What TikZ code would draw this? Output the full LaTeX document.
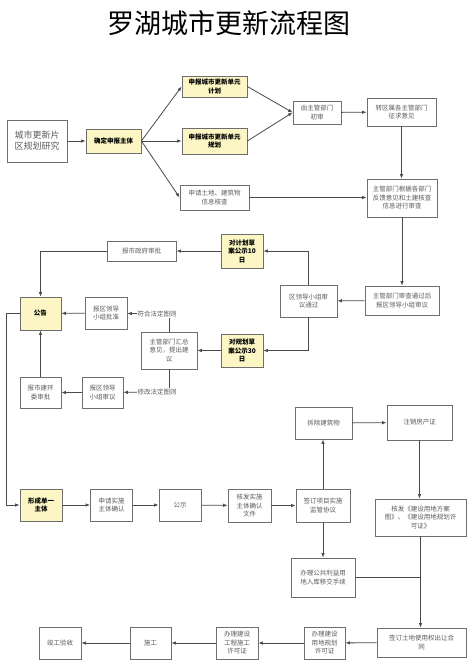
\documentclass[tikz,border=0pt]{standalone}
\usepackage{fontspec}
\setmainfont{Noto Sans CJK SC}
\usepackage{tikz}
\usetikzlibrary{arrows.meta}

\definecolor{keyfill}{HTML}{FBF6C4}
\definecolor{boxline}{HTML}{6E6E6E}
\definecolor{boxtext}{HTML}{5A5A5A}
\definecolor{wire}{HTML}{4A4A4A}

\tikzset{
  box/.style={draw=boxline, line width=0.8pt, fill=white, text=boxtext, align=center,
    inner sep=1pt, font=\fontsize{6.5}{8.5}\selectfont},
  keybox/.style={box, fill=keyfill, text=black, font=\fontsize{6.5}{8.5}\selectfont\bfseries},
  sz/.style 2 args={minimum width=#1, minimum height=#2},
  cond/.style={text=boxtext, inner sep=0.5pt, font=\fontsize{6.5}{8}\selectfont},
  arr/.style={draw=wire, line width=0.8pt, -{Latex[length=4.5pt,width=3.5pt]}},
  wire/.style={draw=wire, line width=0.8pt},
}

\begin{document}
\begin{tikzpicture}[x=1pt, y=-1pt]
    \useasboundingbox (0,0) rectangle (474,667);
    \node[font=\fontsize{27}{30}\selectfont] (title) at (229,23) {罗湖城市更新流程图};

    % upper part
    \node[box, sz={60pt}{42pt}, font=\fontsize{9}{11}\selectfont] (study) at (37,141) {城市更新片\\区规划研究};
    \node[keybox, sz={55pt}{24pt}] (subj) at (113.5,141) {确定申报主体};
    \node[keybox, sz={65pt}{21pt}] (plan) at (214.5,86.5) {申报城市更新单元\\计划};
    \node[keybox, sz={65pt}{26pt}] (layout) at (214.5,141) {申报城市更新单元\\规划};
    \node[box, sz={69pt}{25pt}] (check) at (214.5,197.5) {申请土地、建筑物\\信息核查};
    \node[box, sz={48pt}{23pt}] (first) at (317,112.5) {由主管部门\\初审};
    \node[box, sz={69pt}{28pt}] (consult) at (401.5,112) {转区属各主管部门\\征求意见};
    \node[box, sz={70pt}{38pt}] (review) at (402,198) {主管部门根据各部门\\反馈意见和土建核查\\信息进行审查};
    \node[box, sz={74pt}{29pt}] (toboard) at (402,300.5) {主管部门审查通过后\\报区领导小组审议};
    \node[box, sz={57pt}{32pt}] (passed) at (308.5,301) {区领导小组审\\议通过};
    \node[keybox, sz={42pt}{34pt}] (pub10) at (242,251) {对计划草\\案公示10\\日};
    \node[keybox, sz={42pt}{33pt}] (pub30) at (242,350.5) {对规划草\\案公示30\\日};
    \node[box, sz={69pt}{20pt}] (citygov) at (141.5,251) {报市政府审批};
    \node[keybox, sz={41pt}{33pt}] (notice) at (40.5,313.5) {公告};
    \node[box, sz={42pt}{32pt}] (approve) at (106,313) {报区领导\\小组批准};
    \node[box, sz={56pt}{37pt}] (sum) at (169,350.5) {主管部门汇总\\意见，提出建\\议};
    \node[box, sz={41pt}{31pt}] (deliber) at (102.5,392.5) {报区领导\\小组审议};
    \node[box, sz={41pt}{31pt}] (envcom) at (40.5,392.5) {报市建环\\委审批};
    \node[cond] (fit) at (157,314) {符合法定图则};
    \node[cond] (amend) at (157,392) {修改法定图则};

    % lower part
    \node[keybox, sz={42pt}{32pt}] (single) at (41,505) {形成单一\\主体};
    \node[box, sz={42pt}{32pt}] (apply) at (111.5,505) {申请实施\\主体确认};
    \node[box, sz={42pt}{32pt}] (show) at (180,505) {公示};
    \node[box, sz={43pt}{33pt}] (confirm) at (249.5,505.5) {核发实施\\主体确认\\文件};
    \node[box, sz={54pt}{33pt}] (agree) at (323,505.5) {签订项目实施\\监管协议};
    \node[box, sz={57pt}{32pt}] (demol) at (323.5,423) {拆除建筑物};
    \node[box, sz={65pt}{35pt}] (cancel) at (419.5,422.5) {注销房产证};
    \node[box, sz={91pt}{37pt}] (landmap) at (420.5,517.5) {核发《建设用地方案\\图》、《建设用地规划许\\可证》};
    \node[box, sz={64pt}{39pt}] (public) at (323,577.5) {办理公共利益用\\地入库移交手续};
    \node[box, sz={89pt}{29pt}] (contract) at (421.5,642.5) {签订土地使用权出让合\\同};
    \node[box, sz={41pt}{32pt}] (landper) at (324.5,643) {办理建设\\用地规划\\许可证};
    \node[box, sz={42pt}{32pt}] (buildper) at (237,643) {办理建设\\工程施工\\许可证};
    \node[box, sz={41pt}{32pt}] (work) at (150.5,643) {施工};
    \node[box, sz={42pt}{32pt}] (accept) at (60,643) {竣工验收};

    % connectors
    \draw[arr] (study) -- (subj);
    \draw[arr] (subj.east) -- (plan.west);
    \draw[arr] (subj) -- (layout);
    \draw[arr] (subj.east) -- (check.west);
    \draw[arr] (plan.east) -- (first.west);
    \draw[arr] (layout.east) -- (first.west);
    \draw[arr] (first) -- (consult);
    \draw[arr] (consult.south) -- (consult.south |- review.north);
    \draw[arr] (check.east) -- (check.east -| review.west);
    \draw[arr] (review) -- (toboard);
    \draw[arr] (toboard) -- (passed);
    \draw[arr] (passed.north) |- (pub10.east);
    \draw[arr] (passed.south) |- (pub30.east);
    \draw[arr] (pub10) -- (citygov);
    \draw[arr] (citygov.west) -| (notice.north);
    \draw[arr] (pub30) -- (sum);
    \draw[wire] (sum.north) -- (sum.north |- fit.south);
    \draw[arr] (fit) -- (approve);
    \draw[arr] (approve) -- (notice);
    \draw[wire] (sum.south) -- (sum.south |- amend.north);
    \draw[arr] (amend) -- (deliber);
    \draw[arr] (deliber) -- (envcom);
    \draw[arr] (envcom) -- (notice);
    \draw[arr] (notice.west) -- ++(-13,0) |- (single.west);
    \draw[arr] (single) -- (apply);
    \draw[arr] (apply) -- (show);
    \draw[arr] (show) -- (confirm);
    \draw[arr] (confirm) -- (agree);
    \draw[arr] (agree.north) -- (agree.north |- demol.south);
    \draw[arr] (demol) -- (cancel);
    \draw[arr] (cancel.south) -- (cancel.south |- landmap.north);
    \draw[arr] (agree.south) -- (agree.south |- public.north);
    \draw[arr] (landmap.south) -- (landmap.south |- contract.north);
    \draw[wire] (public.east) -- (public.east -| landmap.south);
    \draw[arr] (contract) -- (landper);
    \draw[arr] (landper) -- (buildper);
    \draw[arr] (buildper) -- (work);
    \draw[arr] (work) -- (accept);
\end{tikzpicture}
\end{document}
